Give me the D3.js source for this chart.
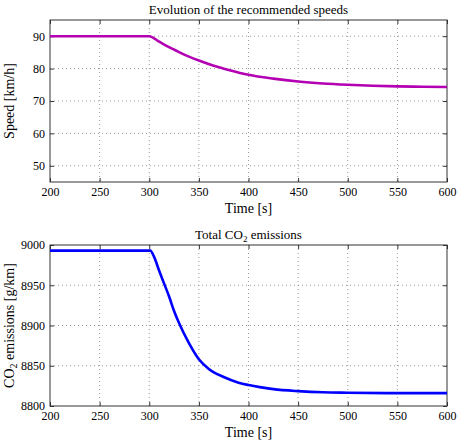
<!DOCTYPE html><html><head><meta charset="utf-8">
<script src="https://cdn.jsdelivr.net/npm/d3@7"></script>
<style>body{margin:0;background:#fff}text{font-family:"Liberation Serif","DejaVu Serif",serif;fill:#000}</style>
</head><body><svg id="c" width="457" height="441"></svg><script>
const speedTime=[200,300,310,320,330,340,350,365,380,400,425,450,475,500,525,550,575,600];
const speedVals=[90,90,88.3,86.6,85.1,83.7,82.5,80.9,79.6,78.1,76.9,76.0,75.4,75.0,74.7,74.5,74.4,74.3];
const co2Time=[200,301,305,310,315,320,325,330,340,350,360,375,390,400,425,450,475,500,550,600];
const co2Vals=[8993,8993,8985,8968,8952,8936,8918,8903,8878,8858,8846,8836,8829,8826,8821,8818.5,8817,8816.5,8816,8816];
const xTicks=[200,250,300,350,400,450,500,550,600];
const speedTicks=[50,60,70,80,90];
const co2Ticks=[8800,8850,8900,8950,9000];
const svg=d3.select("#c");
function panel(top,bottom,yDom,yTicks,t,x,y,color,title,ylab){
 const L=50,R=447;
 const xs=d3.scaleLinear().domain([200,600]).range([L,R]);
 const ys=d3.scaleLinear().domain(yDom).range([bottom,top]);
 const g=svg.append("g");
 g.append("g").selectAll("line").data(xTicks.slice(1,-1)).join("line").attr("x1",d=>xs(d)).attr("x2",d=>xs(d)).attr("y1",top).attr("y2",bottom).attr("stroke","#999").attr("stroke-dasharray","1,3");
 g.append("g").selectAll("line").data(yTicks.filter(v=>ys(v)>top+1&&ys(v)<bottom-1)).join("line").attr("y1",d=>ys(d)).attr("y2",d=>ys(d)).attr("x1",L).attr("x2",R).attr("stroke","#999").attr("stroke-dasharray","1,3");
 const ax=d3.axisBottom(xs).tickValues(xTicks).tickSize(-4).tickPadding(5).tickFormat(d3.format("d"));
 const axT=d3.axisTop(xs).tickValues(xTicks).tickSize(-4).tickFormat("");
 const ay=d3.axisLeft(ys).tickValues(yTicks).tickSize(-4).tickPadding(5).tickFormat(d3.format("d"));
 const ayR=d3.axisRight(ys).tickValues(yTicks).tickSize(-4).tickFormat("");
 [[ax,`translate(0,${bottom})`],[axT,`translate(0,${top})`],[ay,`translate(${L},0)`],[ayR,`translate(${R},0)`]].forEach(([a,tr])=>{
  const gg=g.append("g").attr("transform",tr).call(a);
  gg.select(".domain").remove();
  gg.selectAll("line").attr("stroke","#333");
  gg.selectAll("text").style("font-size","12px").style("font-family","Liberation Serif");
 });
 g.append("rect").attr("x",L).attr("y",top).attr("width",R-L).attr("height",bottom-top).attr("fill","none").attr("stroke","#333");
 g.append("path").datum(t.map((d,i)=>[d,y[i]])).attr("d",d3.line().x(d=>xs(d[0])).y(d=>ys(d[1])).curve(d3.curveMonotoneX)).attr("fill","none").attr("stroke",color).attr("stroke-width",2.6);
 g.append("text").attr("x",(L+R)/2).attr("y",top-6).attr("text-anchor","middle").style("font-size","13px").html(title);
 g.append("text").attr("x",(L+R)/2).attr("y",bottom+31).attr("text-anchor","middle").style("font-size","14px").text("Time [s]");
 g.append("text").attr("transform",`translate(14,${(top+bottom)/2}) rotate(-90)`).attr("text-anchor","middle").style("font-size","14px").html(ylab);
}
panel(20,182,[45,95],speedTicks,speedTime,xTicks,speedVals,"#b300b3","Evolution of the recommended speeds","Speed [km/h]");
panel(245,406,[8800,9000],co2Ticks,co2Time,xTicks,co2Vals,"#0000ff","Total CO<tspan dy='3' font-size='9px'>2</tspan><tspan dy='-3'> emissions</tspan>","CO<tspan dy='3' font-size='10px'>2</tspan><tspan dy='-3'> emissions [g/km]</tspan>");
</script></body></html>
